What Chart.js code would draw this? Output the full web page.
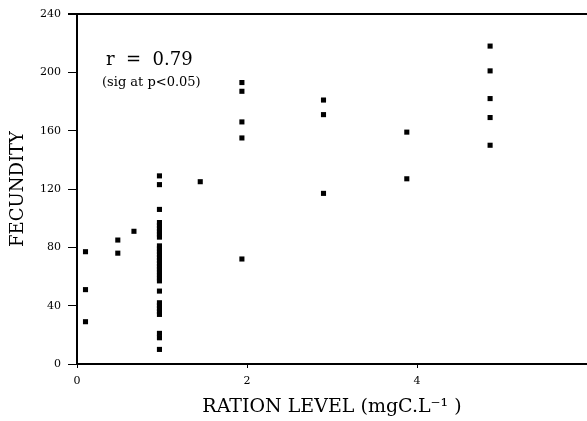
<!DOCTYPE html>
<html>
<head>
<meta charset="utf-8">
<script src="https://cdn.jsdelivr.net/npm/chart.js@4"></script>
<style>
  html, body { margin: 0; padding: 0; background: #fff; }
  #wrap { width: 587px; height: 421px; position: relative; }
</style>
</head>
<body>
<div id="wrap"><canvas id="c" width="587" height="421"></canvas></div>
<script>
// Ration level groups (x) and fecundity values (y)
const rationLevels = [0.1, 0.48, 0.67, 0.97, 1.45, 1.94, 2.9, 3.88, 4.86];
const fecundityByLevel = [
  [77, 51, 29],
  [85, 76],
  [91],
  [129, 123, 106, 97, 95, 93, 91, 89, 87, 81, 79, 77, 75, 73, 71, 69, 67, 65, 63, 61, 59, 57, 50, 42, 40, 38, 36, 34, 21, 18, 10],
  [125],
  [193, 187, 166, 155, 72],
  [181, 171, 117],
  [159, 127],
  [218, 201, 182, 169, 150]
];
const xTicks = [0, 2, 4, 6];
const yTicks = [0, 40, 80, 120, 160, 200, 240];
const xTitle = 'RATION LEVEL (mgC.L\u207B\u00B9 )';
const yTitle = 'FECUNDITY';
const annotationMain = 'r  =  0.79';
const annotationSub = '(sig at p<0.05)';

const points = [];
rationLevels.forEach((x, i) => fecundityByLevel[i].forEach(y => points.push({x, y})));

const serif = '"DejaVu Serif", "Liberation Serif", serif';

const framePlugin = {
  id: 'frame',
  afterDraw(chart) {
    const {ctx, chartArea} = chart;
    ctx.save();
    ctx.strokeStyle = '#000';
    ctx.lineWidth = 2;
    ctx.beginPath();
    ctx.moveTo(chartArea.left - 9, chartArea.top);
    ctx.lineTo(chartArea.right, chartArea.top);
    ctx.stroke();
    // annotation text
    ctx.fillStyle = '#000';
    ctx.textBaseline = 'alphabetic';
    ctx.textAlign = 'left';
    ctx.font = '18px ' + serif;
    ctx.fillText(annotationMain, chartArea.left + 29, 65);
    ctx.font = '13px ' + serif;
    ctx.fillText(annotationSub, chartArea.left + 25, 86);
    ctx.restore();
  }
};

new Chart(document.getElementById('c'), {
  type: 'scatter',
  data: {
    datasets: [{
      data: points,
      pointStyle: 'rect',
      radius: 3.6,
      hoverRadius: 3.6,
      borderWidth: 0,
      backgroundColor: '#000',
      borderColor: '#000'
    }]
  },
  options: {
    responsive: false,
    animation: false,
    events: [],
    layout: { autoPadding: false, padding: { top: 14, right: 0, left: 0, bottom: 0 } },
    plugins: { legend: { display: false }, tooltip: { enabled: false } },
    scales: {
      x: {
        type: 'linear',
        min: 0, max: 6,
        afterFit(s) { s.height = 57; s.paddingRight = 0; s.paddingLeft = 0; },
        afterBuildTicks(s) { s.ticks = xTicks.map(v => ({value: v})); },
        ticks: {
          color: '#000',
          font: { family: serif, size: 11 },
          padding: 7,
          maxRotation: 0,
          callback: v => (v === 6 ? '' : String(v))
        },
        grid: { display: true, drawOnChartArea: false, drawTicks: true, tickLength: 4, color: '#000', tickWidth: 1 },
        border: { display: true, color: '#000', width: 2 },
        title: {
          display: true, text: xTitle, color: '#000',
          font: { family: serif, size: 19 },
          padding: { top: 0, bottom: 3 }
        }
      },
      y: {
        type: 'linear',
        min: 0, max: 240,
        afterFit(s) { s.width = 77; },
        afterBuildTicks(s) { s.ticks = yTicks.map(v => ({value: v})); },
        ticks: {
          color: '#000',
          font: { family: serif, size: 11 },
          padding: 7
        },
        grid: { display: true, drawOnChartArea: false, drawTicks: true, tickLength: 9, color: '#000', tickWidth: 1 },
        border: { display: true, color: '#000', width: 2 },
        title: {
          display: true, text: yTitle, color: '#000',
          font: { family: serif, size: 18 },
          padding: { top: 8, bottom: 0 }
        }
      }
    }
  },
  plugins: [framePlugin]
});
</script>
</body>
</html>
